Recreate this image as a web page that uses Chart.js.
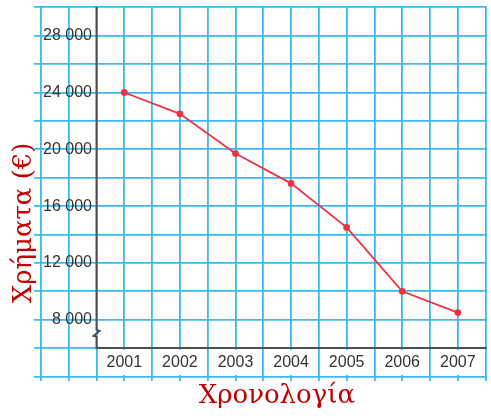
<!DOCTYPE html>
<html>
<head>
<meta charset="utf-8">
<script src="https://cdn.jsdelivr.net/npm/chart.js@4.4.1/dist/chart.umd.min.js"></script>
<style>
  html, body { margin: 0; padding: 0; background: #fff; }
  canvas { display: block; }
</style>
</head>
<body>
<canvas id="myChart" width="491" height="416"></canvas>
<script>
var years = [2001, 2002, 2003, 2004, 2005, 2006, 2007];
var amounts = [24000, 22500, 19700, 17600, 14500, 10000, 8500];
var yLabels = [8000, 12000, 16000, 20000, 24000, 28000];
// horizontal grid lines (every 2 000)
var yGrid = [4000, 6000, 8000, 10000, 12000, 14000, 16000, 18000, 20000, 22000, 24000, 26000, 28000, 30000];

// where the dark axes sit, and where the y axis is broken
var axisYear = 2000.5;
var axisFloor = 6000;
var breakAt = 7000;

var gridBlue = '#3cbaec';
var axisDark = '#4b5055';
var titleRed = '#c00000';
var tickFont = { family: 'Liberation Sans', size: 16 };
var titleFont = { family: 'DejaVu Serif', size: 26, lineHeight: 1 };

var axesPlugin = {
  id: 'axes',
  beforeDatasetsDraw: function (chart) {
    var c = chart.ctx;
    var ax = chart.scales.x.getPixelForValue(axisYear);
    var ay = chart.scales.y.getPixelForValue(axisFloor);
    var zz = chart.scales.y.getPixelForValue(breakAt);
    c.save();
    c.strokeStyle = axisDark;
    c.lineWidth = 2;
    c.beginPath();
    c.moveTo(ax, chart.chartArea.top);
    c.lineTo(ax, zz - 4);
    c.lineTo(ax + 3, zz - 3);
    c.lineTo(ax - 3, zz + 2);
    c.lineTo(ax, zz + 3);
    c.lineTo(ax, ay);
    c.lineTo(chart.chartArea.right, ay);
    c.stroke();
    c.restore();
  }
};

var ctx = document.getElementById('myChart');
var myChart = new Chart(ctx, {
  type: 'line',
  data: {
    datasets: [{
      data: years.map(function (yr, i) { return { x: yr, y: amounts[i] }; }),
      borderColor: '#ee3340',
      backgroundColor: '#ee3340',
      borderWidth: 1.8,
      pointRadius: 2.5,
      pointHoverRadius: 2.5,
      tension: 0,
      fill: false
    }]
  },
  options: {
    responsive: false,
    animation: false,
    devicePixelRatio: 1,
    layout: { padding: { top: 7, right: 1, bottom: 0, left: 0 } },
    plugins: {
      legend: { display: false },
      tooltip: { enabled: false }
    },
    scales: {
      x: {
        type: 'linear',
        min: 1999.375,
        max: 2007.52,
        border: { display: false },
        grid: { color: gridBlue, lineWidth: 1.8, drawTicks: false },
        ticks: {
          stepSize: 0.5,
          includeBounds: false,
          autoSkip: false,
          maxRotation: 0,
          minRotation: 0,
          mirror: true,
          padding: 9,
          font: tickFont,
          color: '#333',
          callback: function (v) { return years.indexOf(v) >= 0 ? String(v) : ''; },
          showLabelBackdrop: function (c) { return years.indexOf(c.tick.value) >= 0; },
          backdropColor: '#fff',
          backdropPadding: 3
        },
        title: {
          display: true,
          text: '    Χρονολογία',
          color: titleRed,
          font: titleFont,
          padding: { top: 0, bottom: 7 }
        },
        afterFit: function (s) { s.height = 35; s.paddingLeft = 0; s.paddingRight = 0; }
      },
      y: {
        min: 3683,
        max: 30021,
        border: { display: false },
        grid: { color: gridBlue, lineWidth: 1.8, drawTicks: false },
        afterBuildTicks: function (s) { s.ticks = yGrid.map(function (v) { return { value: v }; }); },
        ticks: {
          autoSkip: false,
          mirror: true,
          crossAlign: 'far',
          padding: 9,
          font: tickFont,
          color: '#333',
          callback: function (v) { return yLabels.indexOf(v) >= 0 ? (v / 1000) + ' 000' : ''; }
        },
        title: {
          display: true,
          text: 'Χρήματα (€)       ',
          color: titleRed,
          font: titleFont,
          padding: { top: 11, bottom: 0 }
        },
        afterFit: function (s) { s.width = 34; s.paddingTop = 0; s.paddingBottom = 0; }
      }
    }
  },
  plugins: [axesPlugin]
});
</script>
</body>
</html>
